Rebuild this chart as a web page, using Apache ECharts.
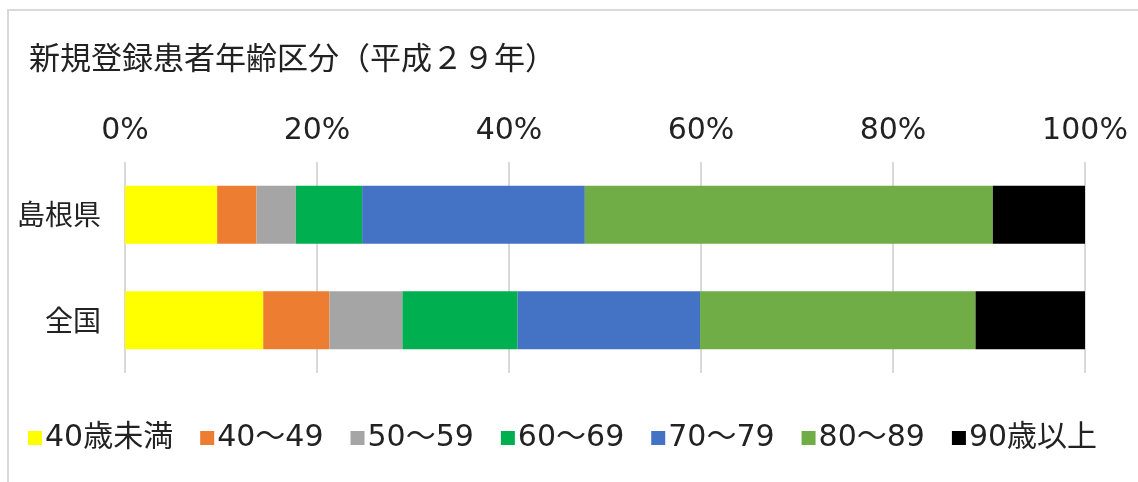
<!DOCTYPE html>
<html>
<head>
<meta charset="utf-8">
<script src="https://cdn.jsdelivr.net/npm/echarts@6/dist/echarts.min.js"></script>
<style>
  html, body { margin: 0; padding: 0; background: #fff; }
  #chart { width: 1138px; height: 482px; }
</style>
</head>
<body>
<div id="chart"></div>
<script>
// 年齢区分ごとの割合 (%)
const categories = ['島根県', '全国']
const groups = ['40歳未満', '40～49', '50～59', '60～69', '70～79', '80～89', '90歳以上']
const colors = ['#FFFF00', '#ED7D31', '#A5A5A5', '#00B050', '#4472C4', '#70AD47', '#000000']
// 行 = 年齢区分, 列 = [島根県, 全国]
const u40 = [9.6, 14.4]
const a40 = [4.1, 6.9]
const a50 = [4.1, 7.6]
const a60 = [6.9, 12.0]
const a70 = [23.2, 19.0]
const a80 = [42.5, 28.7]
const o90 = [9.6, 11.4]
const tickLabels = [0, 20, 40, 60, 80, 100]

const font = '"DejaVu Sans", "Noto Sans CJK JP", sans-serif'
const seriesData = [u40, a40, a50, a60, a70, a80, o90]

const chart = echarts.init(document.getElementById('chart'))

const option = {
  animation: false,
  textStyle: { fontFamily: font },
  title: {
    text: '新規登録患者年齢区分（平成２９年）',
    left: 24,
    top: 37,
    textStyle: {
      fontFamily: '"Noto Sans CJK JP", sans-serif',
      fontSize: 31,
      fontWeight: 'normal',
      color: '#222'
    }
  },
  graphic: [{
    type: 'rect',
    shape: { x: 8, y: 10, width: 1300, height: 700 },
    style: { fill: 'none', stroke: '#d9d9d9', lineWidth: 2 },
    silent: true
  }],
  legend: {
    left: 23,
    top: 418,
    icon: 'rect',
    itemWidth: 14,
    itemHeight: 14,
    itemGap: 27,
    textStyle: { fontFamily: font, fontSize: 30, color: '#222', padding: [0, 0, 0, -2] },
    data: groups
  },
  grid: {
    left: 125,
    right: 53,
    top: 162,
    bottom: 109
  },
  xAxis: {
    type: 'value',
    position: 'top',
    min: tickLabels[0],
    max: tickLabels[tickLabels.length - 1],
    interval: 20,
    axisLine: { show: false },
    axisTick: { show: false },
    axisLabel: {
      formatter: '{value}%',
      fontFamily: font,
      fontSize: 30,
      color: '#222',
      margin: 16
    },
    splitLine: {
      show: true,
      lineStyle: { color: '#d9d9d9', width: 2 }
    }
  },
  yAxis: {
    type: 'category',
    inverse: true,
    data: categories,
    axisLine: { show: false },
    axisTick: { show: false },
    axisLabel: {
      fontFamily: '"Noto Sans CJK JP", sans-serif',
      fontSize: 28,
      color: '#222',
      margin: 24
    }
  },
  series: groups.map((name, i) => ({
    name: name,
    type: 'bar',
    stack: 'total',
    barWidth: '55%',
    itemStyle: { color: colors[i] },
    data: seriesData[i]
  }))
}

chart.setOption(option)
</script>
</body>
</html>
